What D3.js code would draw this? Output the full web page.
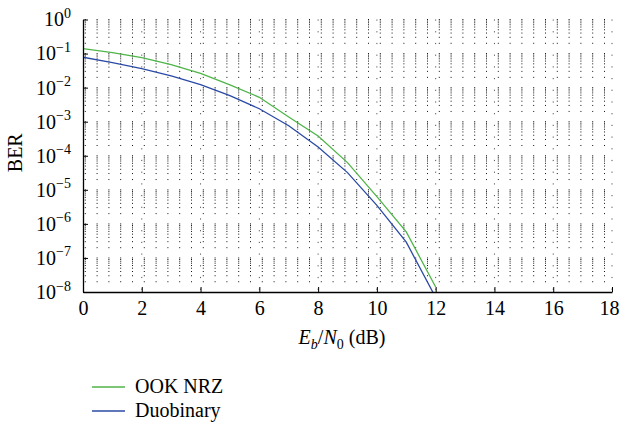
<!DOCTYPE html>
<html>
<head>
<meta charset="utf-8">
<script src="https://cdn.jsdelivr.net/npm/d3@7"></script>
<style>
  body { margin: 0; background: #fff; }
  text { font-family: "Liberation Serif", "DejaVu Serif", serif; fill: #000; }
</style>
</head>
<body>
<div id="chart"></div>
<script>
// Eb/N0 in dB
var snrDb = [0, 1, 2, 3, 4, 5, 6, 7, 8, 9, 10, 11, 12];
// BER
var ookNrz = [1.4e-1, 1.07e-1, 7.6e-2, 4.7e-2, 2.6e-2, 1.2e-2, 5.2e-3, 1.38e-3, 3.8e-4, 6.3e-5, 6.3e-6, 5.8e-7, 1.4e-8];
var duobinary = [7.8e-2, 5.4e-2, 3.6e-2, 2.2e-2, 1.23e-2, 5.8e-3, 2.4e-3, 7.6e-4, 1.8e-4, 3.2e-5, 3.5e-6, 2.9e-7, 6.9e-9];

var xTicks = [0, 2, 4, 6, 8, 10, 12, 14, 16, 18];
var yExponents = [0, -1, -2, -3, -4, -5, -6, -7, -8];
var seriesNames = ["OOK NRZ", "Duobinary"];
var seriesColors = ["#4fb548", "#2b4aa6"];

var W = 620, H = 428;
var mLeft = 83, mRight = 612, mTop = 19.5, mBottom = 292;

var svg = d3.select("#chart")
  .append("svg")
  .attr("width", W)
  .attr("height", H);

var x = d3.scaleLinear().domain([0, 18]).range([mLeft, mRight]);
var y = d3.scaleLog().domain([1e-8, 1]).range([mBottom, mTop]);

// minor values: k * 10^n
var minorY = [];
yExponents.forEach(function(e) {
  if (e === 0) return;
  for (var k = 1; k <= 9; k++) minorY.push(k * Math.pow(10, e));
});
var minorX = d3.range(0, 18.001, 0.4);

// horizontal dotted grid
svg.append("g")
  .attr("class", "grid-h")
  .selectAll("line")
  .data(minorY.filter(function(d) { return d > 1.5e-8; }).concat([1]))
  .enter().append("line")
  .attr("x1", mLeft).attr("x2", mRight)
  .attr("y1", function(d) { return y(d); })
  .attr("y2", function(d) { return y(d); })
  .attr("stroke", "#111")
  .attr("stroke-width", 1)
  .attr("stroke-dasharray", "1,10.8")
  .attr("stroke-dashoffset", 10);

// vertical grid at majors
svg.append("g")
  .attr("class", "grid-v")
  .selectAll("line")
  .data(xTicks.filter(function(d) { return d > 0; }))
  .enter().append("line")
  .attr("x1", function(d) { return x(d); })
  .attr("x2", function(d) { return x(d); })
  .attr("y1", mTop).attr("y2", mBottom)
  .attr("stroke", "#555")
  .attr("stroke-width", 1)
  .attr("stroke-dasharray", "1.2,10.5");

// curves
svg.append("clipPath").attr("id", "plotclip")
  .append("rect")
  .attr("x", mLeft).attr("y", mTop)
  .attr("width", mRight - mLeft).attr("height", mBottom - mTop);

var line = d3.line()
  .x(function(d) { return x(d[0]); })
  .y(function(d) { return y(d[1]); });

[ookNrz, duobinary].forEach(function(vals, i) {
  svg.append("path")
    .datum(snrDb.map(function(s, j) { return [s, vals[j]]; }))
    .attr("clip-path", "url(#plotclip)")
    .attr("fill", "none")
    .attr("stroke", seriesColors[i])
    .attr("stroke-width", 1.3)
    .attr("d", line);
});

// x axis
var xAxisG = svg.append("g")
  .attr("transform", "translate(0," + mBottom + ")");
xAxisG.call(d3.axisBottom(x).tickValues(minorX).tickSize(-3).tickSizeOuter(0).tickFormat(""));
xAxisG.call(d3.axisBottom(x).tickValues(xTicks).tickSize(-5).tickSizeOuter(0).tickPadding(9));
xAxisG.selectAll("text")
  .attr("font-size", 20)
  .attr("font-family", "Liberation Serif")
  .attr("dx", function(d) { return d === 18 ? -3 : 0; });

// y axis
var yAxisG = svg.append("g")
  .attr("transform", "translate(" + mLeft + ",0)");
yAxisG.call(d3.axisLeft(y).tickValues(minorY).tickSize(-3).tickSizeOuter(0).tickFormat(""));
yAxisG.call(d3.axisLeft(y).tickValues(yExponents.map(function(e) { return Math.pow(10, e); }))
  .tickSize(-5).tickSizeOuter(0).tickPadding(12));

yAxisG.selectAll(".tick text")
  .attr("font-size", 20)
  .attr("font-family", "Liberation Serif")
  .each(function(d) {
    var t = d3.select(this).text(null);
    var e = Math.round(Math.log10(d));
    t.append("tspan").text("10");
    t.append("tspan")
      .attr("font-size", 14)
      .attr("dy", "-0.6em")
      .text(e < 0 ? "\u2212" + (-e) : String(e));
  });

svg.selectAll(".domain").attr("stroke", "#000").attr("stroke-width", 1.3);
svg.selectAll(".tick line").attr("stroke", "#000");

// axis titles
svg.append("text")
  .attr("transform", "translate(22," + ((mTop + mBottom) / 2 - 3) + ") rotate(-90)")
  .attr("text-anchor", "middle")
  .attr("font-size", 20)
  .text("BER");

var xl = svg.append("text")
  .attr("x", 342)
  .attr("y", 344)
  .attr("text-anchor", "middle")
  .attr("font-size", 20);
xl.append("tspan").attr("font-style", "italic").text("E");
xl.append("tspan").attr("font-style", "italic").attr("font-size", 14).attr("dy", 5).text("b");
xl.append("tspan").attr("dy", -5).text("/");
xl.append("tspan").attr("font-style", "italic").text("N");
xl.append("tspan").attr("font-size", 14).attr("dy", 5).text("0");
xl.append("tspan").attr("dy", -5).text(" (dB)");

// legend
var legend = svg.append("g").attr("transform", "translate(92,387)");
seriesNames.forEach(function(name, i) {
  var row = legend.append("g").attr("transform", "translate(0," + (i * 24) + ")");
  row.append("line")
    .attr("x1", 0).attr("x2", 33)
    .attr("y1", 0).attr("y2", 0)
    .attr("stroke", seriesColors[i])
    .attr("stroke-width", 1.3);
  row.append("text")
    .attr("x", 43)
    .attr("y", 6)
    .attr("font-size", 20)
    .text(name);
});
</script>
</body>
</html>
